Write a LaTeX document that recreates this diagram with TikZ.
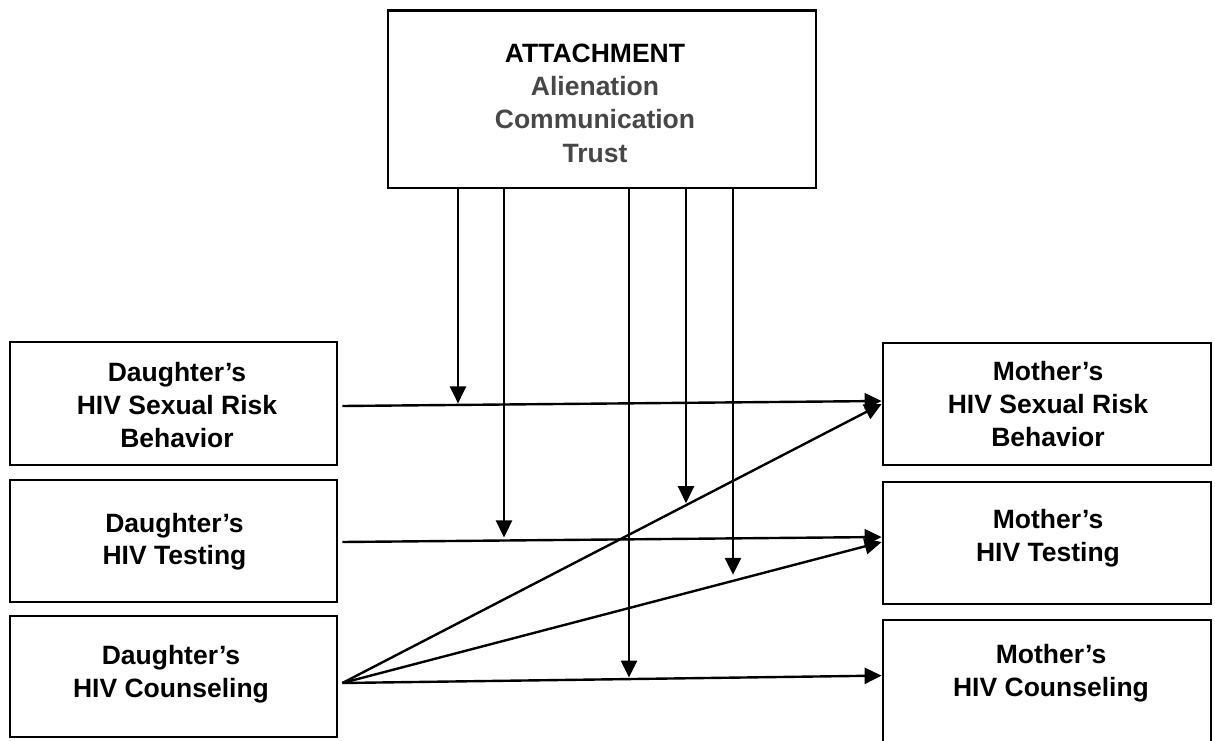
\documentclass[tikz,border=0pt]{standalone}
\usepackage{fontspec}
\setmainfont{Liberation Sans}
\usetikzlibrary{arrows.meta,intersections}

\tikzset{
  box/.style={draw=black, line width=2.8pt, rectangle, inner sep=0pt, fill=white},
  lbl/.style={align=center, inner sep=0pt,
    font=\bfseries\fontsize{26.5}{32.8}\selectfont},
  conn/.style={line width=2.4pt, -{Triangle[length=17pt,width=16pt]}},
}

\begin{document}
\begin{tikzpicture}[x=1pt,y=1pt]
  \clip (0,0) rectangle (1215,-741);
  \fill[white] (0,0) rectangle (1215,-741);

  % boxes
  \node[box, minimum width=428pt, minimum height=177.5pt] (att) at (602,-99.25) {};
  \node[box, minimum width=327pt, minimum height=123pt] (d1) at (173.5,-403.5) {};
  \node[box, minimum width=327pt, minimum height=122pt] (d2) at (173.5,-541) {};
  \node[box, minimum width=327pt, minimum height=121pt] (d3) at (173.5,-676.5) {};
  \node[box, minimum width=328pt, minimum height=122pt] (m1) at (1047,-404) {};
  \node[box, minimum width=328pt, minimum height=122pt] (m2) at (1047,-543) {};
  \node[box, minimum width=328pt, minimum height=140pt] (m3) at (1047,-690) {};

  % box texts
  \node[lbl, font=\bfseries\fontsize{26.5}{33.3}\selectfont] (attt) at (595,-103)
    {ATTACHMENT\\ \textcolor{black!72}{Alienation}\\ \textcolor{black!72}{Communication}\\ \textcolor{black!72}{Trust}};
  \node[lbl] (d1t) at (177,-405) {Daughter’s\\HIV Sexual Risk\\Behavior};
  \node[lbl] (d2t) at (174.5,-541.7) {Daughter’s\\HIV Testing};
  \node[lbl] (d3t) at (171,-674) {Daughter’s\\HIV Counseling};
  \node[lbl] (m1t) at (1048,-404) {Mother’s\\HIV Sexual Risk\\Behavior};
  \node[lbl] (m2t) at (1048,-538) {Mother’s\\HIV Testing};
  \node[lbl] (m3t) at (1051,-673) {Mother’s\\HIV Counseling};

  % end points of the connectors
  \coordinate (a1) at ([xshift=4pt,yshift=-2.5pt]d1.east);
  \coordinate (a2) at ([xshift=4pt,yshift=-1pt]d2.east);
  \coordinate (a3) at ([xshift=4pt,yshift=-6.5pt]d3.east);
  \coordinate (b1) at ([yshift=3pt]m1.west);
  \coordinate (b2) at ([yshift=6pt]m2.west);
  \coordinate (b3) at ([yshift=-57pt]m3.north west);
  \coordinate (c1) at (m1.west);
  \coordinate (c2) at ([yshift=1pt]m2.west);

  % paths between the boxes
  \draw[conn, name path=h1] (a1) -- (b1);
  \draw[conn, name path=h2] (a2) -- (b2);
  \draw[conn, name path=h3] (a3) -- (b3);
  \draw[conn, name path=g1] (a3) -- (c1);
  \draw[conn, name path=g2] (a3) -- (c2);

  % moderating paths from the attachment box
  \coordinate (s1) at ([xshift=-144pt]att.south);
  \coordinate (s2) at ([xshift=-98pt]att.south);
  \coordinate (s3) at ([xshift=27pt]att.south);
  \coordinate (s4) at ([xshift=84pt]att.south);
  \coordinate (s5) at ([xshift=131pt]att.south);
  \path[name path=v1] (s1) -- ++(0,-600);
  \path[name path=v2] (s2) -- ++(0,-600);
  \path[name path=v3] (s3) -- ++(0,-600);
  \path[name path=v4] (s4) -- ++(0,-600);
  \path[name path=v5] (s5) -- ++(0,-600);
  \path[name intersections={of=v1 and h1, by=t1}];
  \path[name intersections={of=v2 and h2, by=t2}];
  \path[name intersections={of=v3 and h3, by=t3}];
  \path[name intersections={of=v4 and g1, by=t4}];
  \path[name intersections={of=v5 and g2, by=t5}];
  \draw[conn, shorten >=1.5pt] (s1) -- (t1);
  \draw[conn, shorten >=3pt] (s2) -- (t2);
  \draw[conn, shorten >=1.5pt] (s3) -- (t3);
  \draw[conn, shorten >=2pt] (s4) -- (t4);
  \draw[conn, shorten >=6pt] (s5) -- (t5);
\end{tikzpicture}
\end{document}
